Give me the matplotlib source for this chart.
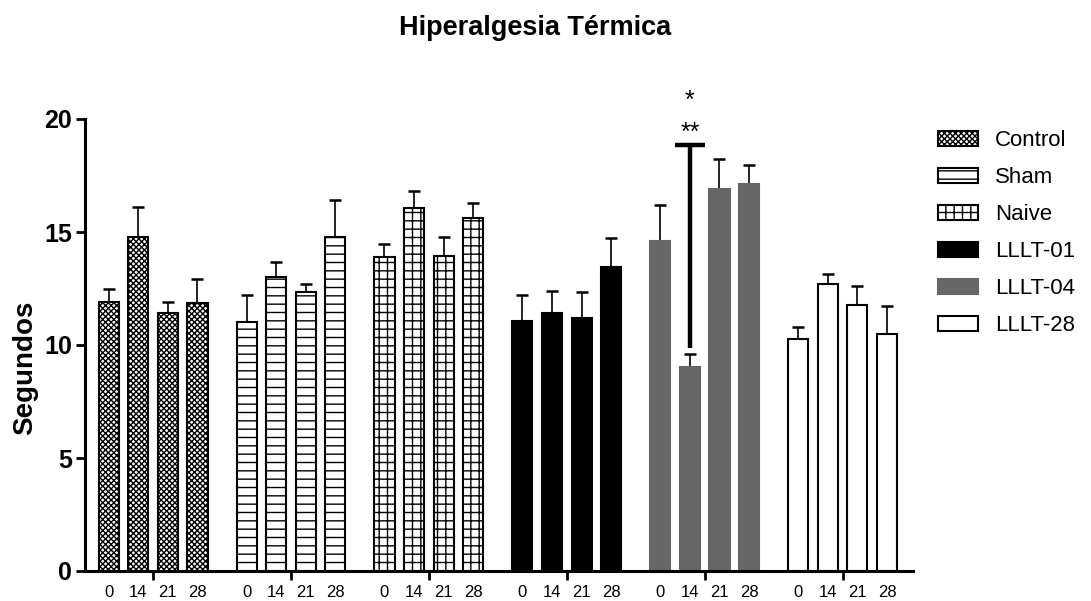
import matplotlib
matplotlib.use('Agg')
import matplotlib.pyplot as plt
from matplotlib.patches import Patch

groups = ['Control', 'Sham', 'Naive', 'LLLT-01', 'LLLT-04', 'LLLT-28']
days = ['0', '14', '21', '28']

means = [
    [11.9, 14.78, 11.4, 11.86],
    [11.03, 13.0, 12.36, 14.78],
    [13.91, 16.08, 13.94, 15.6],
    [11.07, 11.4, 11.18, 13.46],
    [14.6, 9.04, 16.92, 17.12],
    [10.25, 12.69, 11.78, 10.5],
]
err_tops = [
    [12.48, 16.1, 11.9, 12.9],
    [12.23, 13.69, 12.71, 16.43],
    [14.47, 16.8, 14.79, 16.3],
    [12.2, 12.39, 12.35, 14.73],
    [16.21, 9.6, 18.22, 17.96],
    [10.78, 13.14, 12.62, 11.73],
]

# significance bracket on LLLT-04 day 14
sig_group = 4
sig_bar = 1
sig_low = 9.87
sig_high = 18.85
sig_labels = ['**', '*']
sig_label_y = [19.4, 20.8]

facecolors = ['white', 'white', 'white', 'black', '#666666', 'white']
edgecolors = ['black', 'black', 'black', 'black', '#666666', 'black']
hatches = ['xxxxxx', '--', '++', None, None, None]

plt.rcParams['font.family'] = ['Liberation Sans', 'DejaVu Sans']
plt.rcParams['hatch.linewidth'] = 1.0

GROUP_STEP = 4.66
OFFSETS = [-1.5, -0.5, 0.5, 1.5]
WIDTH = 0.68


def main():
    fig = plt.figure(figsize=(10.91, 6.01), dpi=100)
    ax = fig.add_axes([85 / 1091, 1 - 571 / 601, (913 - 85) / 1091, (571 - 119) / 601])

    bar_x = []
    bar_labels = []
    for g in range(len(groups)):
        xs = [g * GROUP_STEP + o for o in OFFSETS]
        ax.bar(xs, means[g], width=WIDTH, color=facecolors[g],
               edgecolor=edgecolors[g], linewidth=1.5, hatch=hatches[g], zorder=2)
        up = [t - m for t, m in zip(err_tops[g], means[g])]
        ax.errorbar(xs, means[g], yerr=[[0] * 4, up], fmt='none', ecolor='black',
                    elinewidth=1.2, capsize=4, capthick=1.8, zorder=1)
        bar_x += xs
        bar_labels += days

    sx = sig_group * GROUP_STEP + OFFSETS[sig_bar]
    ax.plot([sx, sx], [sig_low, sig_high], color='black', lw=3.2, solid_capstyle='butt', zorder=3)
    ax.plot([sx - 0.5, sx + 0.5], [sig_high, sig_high], color='black', lw=3.2,
            solid_capstyle='butt', zorder=3)
    for lab, yy in zip(sig_labels, sig_label_y):
        ax.text(sx, yy, lab, ha='center', va='center', fontsize=18, clip_on=False)

    ax.set_xlim(-2.30, 25.68)
    ax.set_ylim(0, 20)
    ax.set_yticks([0, 5, 10, 15, 20])
    ax.set_yticklabels(['0', '5', '10', '15', '20'], fontsize=18, fontweight='bold')
    ax.tick_params(axis='y', length=6.5, width=2, pad=3)

    ax.set_xticks([g * GROUP_STEP for g in range(len(groups))])
    ax.set_xticklabels([])
    ax.tick_params(axis='x', which='major', length=6.5, width=2)
    ax.set_xticks(bar_x, minor=True)
    ax.set_xticklabels(bar_labels, minor=True, fontsize=12)
    ax.tick_params(axis='x', which='minor', length=0, pad=10)

    for s in ['top', 'right']:
        ax.spines[s].set_visible(False)
    for s in ['left', 'bottom']:
        ax.spines[s].set_linewidth(2.2)

    ax.set_ylabel('Segundos', fontsize=20, fontweight='bold')
    ax.yaxis.set_label_coords(-0.056, 0.45)

    fig.text(535 / 1091, 1 - 28 / 601, 'Hiperalgesia Térmica', ha='center', va='center',
             fontsize=19.5, fontweight='bold')

    handles = [Patch(facecolor=facecolors[g], edgecolor=edgecolors[g], hatch=hatches[g],
                     linewidth=1.5, label=groups[g]) for g in range(len(groups))]
    fig.legend(handles=handles, loc='upper left', bbox_to_anchor=(938 / 1091, 1 - 130 / 601),
               frameon=False, fontsize=16, handlelength=1.8, handleheight=0.65,
               handletextpad=0.75, labelspacing=0.72, borderpad=0, borderaxespad=0)

    fig.savefig('out.png', dpi=100)


if __name__ == '__main__':
    main()
